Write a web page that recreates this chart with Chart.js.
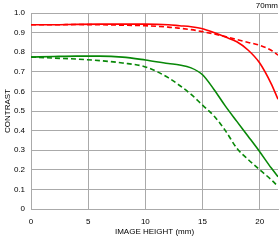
<!DOCTYPE html>
<html><head><meta charset="utf-8">
<script src="https://cdn.jsdelivr.net/npm/chart.js@4/dist/chart.umd.min.js"></script>
<style>html,body{margin:0;padding:0;background:#fff}#wrap{width:280px;height:240px}</style>
</head><body><div id="wrap"><canvas id="c" width="280" height="240"></canvas></div>
<script>
const imageHeight = [0, 2, 4, 6, 8, 10, 12, 13, 14, 15, 16, 17, 18, 19, 20, 21, 21.6];
const redSolid   = [0.94, 0.94, 0.942, 0.943, 0.943, 0.943, 0.94, 0.935, 0.93, 0.92, 0.9, 0.877, 0.853, 0.81, 0.745, 0.64, 0.56];
const redDashed  = [0.94, 0.94, 0.941, 0.94, 0.938, 0.935, 0.928, 0.922, 0.915, 0.905, 0.893, 0.88, 0.865, 0.85, 0.835, 0.81, 0.785];
const greenSolid = [0.775, 0.778, 0.78, 0.78, 0.775, 0.76, 0.742, 0.735, 0.72, 0.685, 0.61, 0.525, 0.447, 0.37, 0.292, 0.21, 0.165];
const greenDashed= [0.775, 0.77, 0.765, 0.757, 0.745, 0.725, 0.67, 0.63, 0.585, 0.53, 0.475, 0.4, 0.31, 0.252, 0.2, 0.15, 0.115];
const yTicks = [0, 0.1, 0.2, 0.3, 0.4, 0.5, 0.6, 0.7, 0.8, 0.9, 1];
const xTicks = [0, 5, 10, 15, 20];
const focalLabel = '70mm';
const xTitle = 'IMAGE HEIGHT (mm)';
const yTitle = 'CONTRAST';

const pts = arr => imageHeight.map((x, i) => ({x, y: arr[i]}));
const RED = '#ff0000', GREEN = '#088808';
const FONT = {family: 'Liberation Sans, Arial, sans-serif', size: 8};

const labelPlugin = {
  id: 'focal',
  afterDraw(chart) {
    const ctx = chart.ctx;
    ctx.save();
    ctx.font = '8px "Liberation Sans", Arial, sans-serif';
    ctx.fillStyle = '#000';
    ctx.textAlign = 'right';
    ctx.textBaseline = 'middle';
    ctx.fillText(focalLabel, 278, 6);
    ctx.restore();
  }
};

new Chart(document.getElementById('c'), {
  type: 'line',
  data: {
    datasets: [
      {data: pts(redDashed), borderColor: RED, borderWidth: 1.6, borderDash: [5, 3]},
      {data: pts(greenDashed), borderColor: GREEN, borderWidth: 1.6, borderDash: [5, 3]},
      {data: pts(redSolid), borderColor: RED, borderWidth: 1.6},
      {data: pts(greenSolid), borderColor: GREEN, borderWidth: 1.6}
    ]
  },
  options: {
    responsive: false,
    animation: false,
    events: [],
    elements: {point: {radius: 0}, line: {tension: 0.4, cubicInterpolationMode: 'monotone', fill: false}},
    layout: {padding: {top: 13, right: 2, left: 0, bottom: 0}},
    plugins: {legend: {display: false}, tooltip: {enabled: false}},
    scales: {
      x: {
        type: 'linear', min: 0, max: 21.6,
        afterBuildTicks: s => { s.ticks = xTicks.map(v => ({value: v})); },
        afterFit: s => { s.height = 31; },
        ticks: {color: '#000', font: FONT, padding: 8, maxRotation: 0},
        grid: {color: '#aaaaaa', lineWidth: 1, drawTicks: false},
        border: {color: '#aaaaaa'},
        title: {display: true, text: xTitle, color: '#000', font: FONT, padding: {top: 2, bottom: 3}}
      },
      y: {
        type: 'linear', min: 0, max: 1,
        afterBuildTicks: s => { s.ticks = yTicks.map(v => ({value: v})); },
        afterFit: s => { s.width = 31; },
        ticks: {color: '#000', font: FONT, padding: 6},
        grid: {color: '#aaaaaa', lineWidth: 1, drawTicks: false},
        border: {color: '#aaaaaa'},
        title: {display: true, text: yTitle, color: '#000', font: FONT, padding: {top: 3, bottom: 0}}
      }
    }
  },
  plugins: [labelPlugin]
});
</script></body></html>
